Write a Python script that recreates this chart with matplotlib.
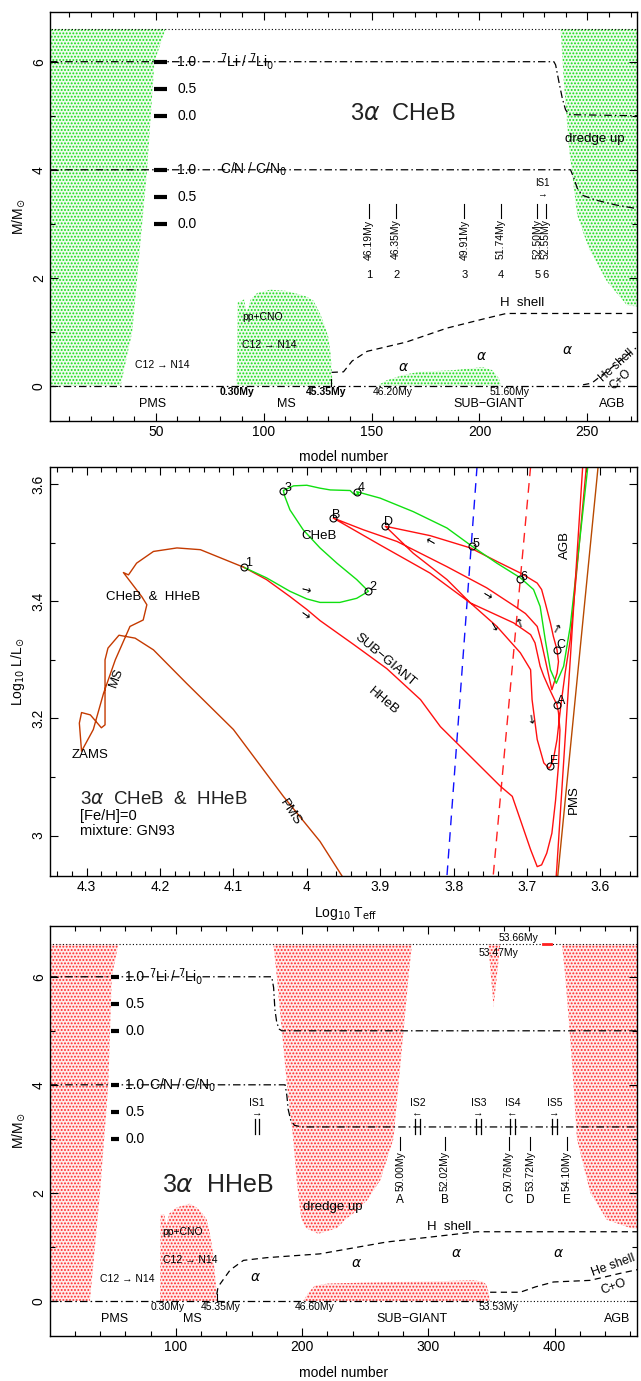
import matplotlib
matplotlib.use('Agg')
import matplotlib.pyplot as plt
from matplotlib.ticker import MultipleLocator, FixedLocator

plt.rcParams['font.family'] = ['Liberation Sans', 'DejaVu Sans']
plt.rcParams['mathtext.fontset'] = 'dejavusans'
plt.rcParams['hatch.linewidth'] = 0.9

# ================= DATA =================
# ---- top panel (3alpha CHeB), model number vs M/Msun ----
top_pms_y = [0, 1, 2, 4, 6, 6.6]
top_pms_x = [33.7, 39.1, 41.4, 46.0, 49.4, 54.5]
top_ms_x = [87.5, 88, 91, 92, 94, 97, 103, 110, 116, 120, 123, 126, 128, 130, 131, 131.5, 132]
top_ms_y = [0, 1.55, 1.6, 1.35, 1.6, 1.72, 1.78, 1.76, 1.7, 1.65, 1.58, 1.35, 1.15, 0.9, 0.6, 0.3, 0]
top_sg_x = [152.6, 156.8, 164.5, 172, 187.6, 195, 201.4, 206, 209, 210]
top_sg_y = [0, 0.1, 0.2, 0.26, 0.29, 0.32, 0.35, 0.29, 0.14, 0]
top_agb_y = [1.47, 1.49, 1.93, 2.54, 3.16, 4.40, 5.63, 6.6]
top_agb_x = [273, 268.4, 259.1, 250.7, 245.3, 241.5, 239.1, 237.6]
top_li_x = [1, 234.5, 235.3, 236.8, 238.4, 239.9, 241.5, 273]
top_li_y = [6, 6, 5.94, 5.63, 5.32, 5.11, 5.02, 5.0]
top_cn_x = [1, 242.2, 243.8, 245.3, 247.6, 253.8, 263, 273]
top_cn_y = [4, 4, 3.84, 3.66, 3.53, 3.44, 3.35, 3.28]
top_hsh_x = [131.5, 137, 141, 148, 166, 185, 203, 212.4, 273]
top_hsh_y = [0.25, 0.26, 0.46, 0.64, 0.81, 1.07, 1.25, 1.34, 1.34]
top_hesh_x = [248, 252, 260, 272.5]
top_hesh_y = [0.02, 0.05, 0.3, 0.7]
top_mark_x = [148.8, 161.4, 193, 209.9, 226.8, 230.7]
top_mark_age = ['46.19My', '46.35My', '49.91My', '51.74My', '52.50My', '52.55My']
top_mark_id = ['1', '2', '3', '4', '5', '6']
top_time_x = [87.8, 129, 160, 214]
top_time_lab = ['0.30My', '45.35My', '46.20My', '51.60My']
top_phase_x = [48.3, 110.6, 204.5, 261.4]
top_alpha_x = [165, 201, 240.7]
top_alpha_y = [0.35, 0.55, 0.66]

# ---- middle panel: HR diagram ----
shared_T = [3.952, 3.982, 4.032, 4.1, 4.164, 4.209, 4.234, 4.256, 4.271, 4.275, 4.275,
            4.28, 4.295, 4.307, 4.31, 4.307, 4.291, 4.277, 4.261, 4.241, 4.223, 4.218,
            4.225, 4.25, 4.243, 4.232, 4.209, 4.177, 4.145, 4.086]
shared_L = [2.931, 2.99, 3.067, 3.181, 3.26, 3.317, 3.337, 3.342, 3.32, 3.30, 3.189,
            3.184, 3.206, 3.21, 3.192, 3.144, 3.181, 3.243, 3.30, 3.357, 3.368, 3.394,
            3.408, 3.449, 3.445, 3.465, 3.485, 3.491, 3.488, 3.458]
green_T = [4.086, 4.055, 4.023, 4.0, 3.982, 3.955, 3.932, 3.916, 3.932, 3.959, 3.982,
           4.005, 4.023, 4.03, 4.032, 4.018, 4.0, 3.982, 3.968, 3.941, 3.936, 3.929,
           3.932, 3.9, 3.855, 3.809, 3.775, 3.741, 3.709, 3.691, 3.682, 3.675, 3.668,
           3.66, 3.65, 3.641, 3.630, 3.617]
green_L = [3.458, 3.44, 3.417, 3.404, 3.398, 3.398, 3.405, 3.417, 3.437, 3.465, 3.491,
           3.522, 3.556, 3.579, 3.589, 3.597, 3.598, 3.593, 3.59, 3.589, 3.583, 3.582,
           3.587, 3.576, 3.553, 3.525, 3.494, 3.465, 3.44, 3.42, 3.391, 3.334, 3.283,
           3.26, 3.289, 3.357, 3.482, 3.63]
red_T = [4.086, 4.055, 4.023, 4.0, 3.982, 3.936, 3.891, 3.845, 3.818, 3.736, 3.72,
         3.709, 3.695, 3.686, 3.68, 3.673, 3.666, 3.661, 3.657, 3.655, 3.657, 3.659,
         3.670, 3.677, 3.682, 3.689, 3.695, 3.718, 3.777, 3.832, 3.9, 3.964,
         3.923, 3.877, 3.809, 3.755, 3.716, 3.702, 3.686, 3.681, 3.675, 3.668, 3.666,
         3.659, 3.657, 3.659,
         3.664, 3.668, 3.675, 3.68, 3.686, 3.707, 3.741, 3.777, 3.832, 3.893,
         3.855, 3.809, 3.777, 3.741, 3.709, 3.695, 3.693, 3.686, 3.677, 3.670, 3.668,
         3.664, 3.659, 3.654, 3.648, 3.641, 3.630, 3.619]
red_L = [3.458, 3.437, 3.408, 3.386, 3.367, 3.326, 3.285, 3.232, 3.186, 3.084, 3.067,
         3.027, 2.976, 2.947, 2.95, 2.97, 3.004, 3.06, 3.12, 3.18, 3.21, 3.223,
         3.252, 3.272, 3.289, 3.329, 3.343, 3.363, 3.397, 3.448, 3.496, 3.542,
         3.522, 3.502, 3.459, 3.423, 3.391, 3.379, 3.357, 3.334, 3.30, 3.26, 3.249,
         3.277, 3.297, 3.317,
         3.34, 3.363, 3.397, 3.42, 3.431, 3.447, 3.468, 3.491, 3.512, 3.528,
         3.482, 3.437, 3.397, 3.357, 3.312, 3.283, 3.232, 3.164, 3.124, 3.115, 3.118,
         3.13, 3.164, 3.22, 3.277, 3.334, 3.48, 3.63]
hayashi_T = [3.658, 3.603]
hayashi_L = [2.931, 3.63]
hayashi2_T = [3.660, 3.624]
hayashi2_L = [2.931, 3.63]
blue_edge_T = [3.768, 3.809]
blue_edge_L = [3.63, 2.931]
red_edge_T = [3.695, 3.746]
red_edge_L = [3.63, 2.931]
green_pts_T = [4.086, 3.916, 4.032, 3.932, 3.775, 3.709]
green_pts_L = [3.458, 3.417, 3.589, 3.587, 3.494, 3.438]
green_pts_id = ['1', '2', '3', '4', '5', '6']
red_pts_T = [3.659, 3.964, 3.659, 3.893, 3.668]
red_pts_L = [3.223, 3.542, 3.317, 3.528, 3.118]
red_pts_id = ['A', 'B', 'C', 'D', 'E']

# ---- bottom panel (3alpha HHeB) ----
bot_pms_y = [0, 1, 2, 4, 6, 6.6]
bot_pms_x = [32, 36, 40, 46.6, 49.3, 54.5]
bot_ms_x = [87.6, 88, 91, 92.5, 95, 100, 105, 111, 117, 121, 124.6, 127, 129.5, 131, 132.2, 132.5]
bot_ms_y = [0, 1.6, 1.6, 1.4, 1.62, 1.72, 1.76, 1.8, 1.72, 1.62, 1.5, 1.25, 0.9, 0.5, 0.2, 0]
bot_sg_x = [201, 205, 210, 220, 250, 300, 335, 343, 346, 348, 348.5]
bot_sg_y = [0, 0.15, 0.28, 0.32, 0.34, 0.36, 0.38, 0.36, 0.3, 0.15, 0]
bot_du_y = [1.25, 1.35, 1.5, 1.62, 1.86, 2.23, 3.0, 4.0, 5.0, 6.0, 6.6]
bot_du_left = [212, 203, 199.8, 198.8, 197.5, 195.8, 193, 188, 184, 180, 177.4]
bot_du_right = [214, 228, 234, 240.7, 251.4, 261.9, 272.4, 276.4, 280.4, 284.4, 287]
bot_spike_x = [347.5, 351.7, 357]
bot_spike_y = [6.6, 5.44, 6.6]
bot_agb_y = [1.33, 1.35, 1.5, 2.0, 2.5, 3.0, 4.0, 5.0, 6.0, 6.6]
bot_agb_x = [466, 460, 441.5, 428.3, 423, 417.7, 415, 411.9, 408.5, 405.9]
bot_li_x = [0.4, 176, 177.5, 178.5, 180, 182, 184, 466]
bot_li_y = [6, 6, 5.8, 5.4, 5.15, 5.03, 5.0, 5.0]
bot_cn_x = [0.4, 186.6, 188, 189, 191, 194, 200, 466]
bot_cn_y = [4, 4, 3.8, 3.55, 3.35, 3.25, 3.22, 3.22]
bot_hsh_x = [132.5, 133.5, 143, 153.6, 172, 214, 267, 320, 338.5, 466]
bot_hsh_y = [0.12, 0.26, 0.57, 0.75, 0.8, 0.87, 1.09, 1.23, 1.28, 1.28]
bot_hesh_x = [349, 372.8, 385, 399.2, 428.3, 452, 466]
bot_hesh_y = [0.16, 0.16, 0.26, 0.35, 0.38, 0.51, 0.58]
bot_mark_x = [277.7, 312.9, 363.6, 380.8, 409.8]
bot_mark_age = ['50.00My', '52.02My', '50.76My', '53.72My', '54.10My']
bot_mark_id = ['A', 'B', 'C', 'D', 'E']
bot_is_x = [164.2, 291.5, 339.8, 366.7, 400.0]
bot_is_name = ['IS1', 'IS2', 'IS3', 'IS4', 'IS5']
bot_is_arrow = ['\u2192', '\u2190', '\u2192', '\u2190', '\u2192']
bot_time_x = [93.4, 135.6, 210.4, 355.9]
bot_time_lab = ['0.30My', '45.35My', '46.60My', '53.53My']
bot_phase_x = [51.9, 113.5, 287, 449.4]
bot_alpha_x = [162.8, 242.9, 322.7, 403.2]
bot_alpha_y = [0.44, 0.70, 0.89, 0.89]

phase_names = ['PMS', 'MS', 'SUB\u2212GIANT', 'AGB']
scale_vals = ['1.0', '0.5', '0.0']

# ================= FIGURE =================
W, H = 641, 1381
fig = plt.figure(figsize=(W / 100, H / 100), dpi=100)
ax1 = fig.add_axes([50 / W, 1 - 421 / H, 587 / W, 409 / H])
ax2 = fig.add_axes([50 / W, 1 - 876 / H, 587 / W, 409.5 / H])
ax3 = fig.add_axes([50 / W, 1 - 1336 / H, 587 / W, 410 / H])

GREEN = '#18dc18'
GREEN_BG = '#edfbed'
REDH = '#ff2a2a'
RED_BG = '#ffeaea'
DASHDOT = (0, (6, 2.5, 1.2, 2.5))
DASHED = (0, (5, 3.5))


def style(ax, xmaj, xmin, ymaj, ylabs, ymin):
    ax.xaxis.set_major_locator(FixedLocator(xmaj))
    ax.xaxis.set_minor_locator(FixedLocator(xmin))
    ax.set_yticks(ymaj)
    ax.set_yticklabels(ylabs, rotation=90, va='center')
    ax.yaxis.set_minor_locator(FixedLocator(ymin))
    ax.tick_params(which='both', direction='in', top=True, right=True, labelsize=10, pad=3)
    ax.tick_params(which='major', length=6, width=0.8)
    ax.tick_params(which='minor', length=3.5, width=0.8)
    for s in ax.spines.values():
        s.set_linewidth(1.0)


def conv_fill_x(ax, y, xl, xr, color, bg):
    ax.fill_betweenx(y, xl, xr, facecolor=bg, edgecolor=color, hatch='.....', linewidth=0)


def conv_fill_y(ax, x, yl, yu, color, bg):
    ax.fill_between(x, yl, yu, facecolor=bg, edgecolor=color, hatch='.....', linewidth=0)


def kipp_common(ax, li_x, li_y, cn_x, cn_y, bar_x0, bar_x1, num_x, txt_x, xr):
    ax.plot([0, xr], [6.6, 6.6], color='k', lw=0.8, ls=(0, (1, 2)))
    ax.plot(li_x, li_y, color='k', lw=0.9, ls=DASHDOT)
    ax.plot(cn_x, cn_y, color='k', lw=0.9, ls=DASHDOT)
    for base in (6.0, 4.0):
        for k, v in enumerate(scale_vals):
            yy = base - 0.5 * k
            ax.plot([bar_x0, bar_x1], [yy, yy], color='k', lw=3, solid_capstyle='butt', zorder=4)
            ax.text(num_x, yy, v, fontsize=10, ha='left', va='center', zorder=4)
    ax.text(txt_x, 6.0, r'$^7$Li / $^7$Li$_0$', fontsize=10, ha='left', va='center')
    ax.text(txt_x, 4.0, r'C/N / C/N$_0$', fontsize=10, ha='left', va='center')


# ---------------- TOP PANEL ----------------
ax = ax1
conv_fill_x(ax, top_pms_y, [0] * len(top_pms_y), top_pms_x, GREEN, GREEN_BG)
conv_fill_y(ax, top_ms_x, 0, top_ms_y, GREEN, GREEN_BG)
conv_fill_y(ax, top_sg_x, 0, top_sg_y, GREEN, GREEN_BG)
conv_fill_x(ax, top_agb_y, top_agb_x, [280] * len(top_agb_y), GREEN, GREEN_BG)
ax.plot([0, 280], [0, 0], color='k', lw=0.9, ls=DASHDOT)
kipp_common(ax, top_li_x, top_li_y, top_cn_x, top_cn_y, 49.4, 55.2, 60, 80, 280)
ax.plot(top_hsh_x, top_hsh_y, color='k', lw=0.9, ls=DASHED)
ax.plot([131.4, 131.4], [0.0, 0.13], color='k', lw=0.8)
ax.plot(top_hesh_x, top_hesh_y, color='k', lw=0.9, ls=DASHED)
for x, age, idn in zip(top_mark_x, top_mark_age, top_mark_id):
    ax.plot([x, x], [3.1, 3.36], color='k', lw=0.8)
    ax.text(x, 3.08, age, rotation=90, fontsize=7.5, ha='center', va='top')
    ax.text(x, 2.05, idn, fontsize=8, ha='center', va='center')
ax.text(229, 3.75, 'IS1', fontsize=7, ha='center', va='center')
ax.text(229, 3.55, '\u2192', fontsize=7, ha='center', va='center')
for x, lab in zip(top_time_x, top_time_lab):
    ax.text(x, -0.12, lab, fontsize=7.5, ha='center', va='center',
            fontweight='bold' if lab in ('0.30My', '45.35My') else 'normal')
for x, lab in zip(top_phase_x, phase_names):
    ax.text(x, -0.33, lab, fontsize=9, ha='center', va='center')
for x, y in zip(top_alpha_x, top_alpha_y):
    ax.text(x, y, r'$\alpha$', fontsize=10, ha='center', va='center')
ax.text(164.5, 5.04, r'3$\alpha$  CHeB', fontsize=17, ha='center', va='center', color='#222222')
ax.text(253.5, 4.57, 'dredge up', fontsize=9.5, ha='center', va='center')
ax.text(220, 1.53, 'H  shell', fontsize=9.5, ha='center', va='center')
ax.text(263.5, 0.38, 'He shell', fontsize=8.5, ha='center', va='center', rotation=42)
ax.text(265.5, 0.12, 'C+O', fontsize=8.5, ha='center', va='center', rotation=42)
ax.text(90, 1.28, 'pp+CNO', fontsize=7.5, ha='left', va='center')
ax.text(90, 0.75, 'C12 \u2192 N14', fontsize=7.5, ha='left', va='center')
ax.text(40.3, 0.38, 'C12 \u2192 N14', fontsize=7.5, ha='left', va='center')
ax.set_xlim(1, 273)
ax.set_ylim(-0.65, 6.92)
style(ax, [50, 100, 150, 200, 250], list(range(10, 280, 10)), [0, 2, 4, 6],
      ['0', '2', '4', '6'], [1, 3, 5])
ax.set_xlabel('model number', fontsize=10)
ax.xaxis.set_label_coords(0.5, -0.072)
ax.set_ylabel(r'M/M$_{\odot}$', fontsize=10)
ax.yaxis.set_label_coords(-0.04, 0.5)

# ---------------- MIDDLE PANEL ----------------
ax = ax2
ax.plot(blue_edge_T, blue_edge_L, color='#1010ff', lw=1.0, ls=(0, (7, 5)))
ax.plot(red_edge_T, red_edge_L, color='#ff2020', lw=1.0, ls=(0, (7, 5)))
ax.plot(red_T, red_L, color='#ff1010', lw=1.0)
ax.plot(green_T, green_L, color='#10e010', lw=1.0)
ax.plot(hayashi2_T, hayashi2_L, color='#ff1010', lw=1.0)
ax.plot(hayashi_T, hayashi_L, color='#b84a00', lw=1.0)
ax.plot(shared_T, shared_L, color='#c43a00', lw=1.0)
ax.plot(green_pts_T, green_pts_L, 'o', mfc='none', mec='k', ms=5, mew=0.8)
ax.plot(red_pts_T, red_pts_L, 'o', mfc='none', mec='k', ms=5, mew=0.8)
gl_dx = [0.006, 0.006, 0.007, 0.006, 0.006, 0.005]
gl_dy = [0.008, 0.007, 0.005, 0.006, 0.003, 0.004]
for t, l, s, dx, dy in zip(green_pts_T, green_pts_L, green_pts_id, gl_dx, gl_dy):
    ax.text(t - dx, l + dy, s, fontsize=9, ha='center', va='center')
rl_dx = [0.005, 0.004, 0.005, 0.005, 0.005]
rl_dy = [0.006, 0.006, 0.009, 0.007, 0.009]
for t, l, s, dx, dy in zip(red_pts_T, red_pts_L, red_pts_id, rl_dx, rl_dy):
    ax.text(t - dx, l + dy, s, fontsize=9, ha='center', va='center')
arrow_T = [4.002, 4.002, 3.832, 3.755, 3.746, 3.709, 3.661, 3.693]
arrow_L = [3.42, 3.377, 3.502, 3.411, 3.357, 3.363, 3.351, 3.198]
arrow_ch = ['\u2192', '\u2192', '\u2190', '\u2192', '\u2192', '\u2191', '\u2191', '\u2193']
arrow_rot = [-15, -35, -30, -30, -60, 20, -30, 10]
for t, l, c, r in zip(arrow_T, arrow_L, arrow_ch, arrow_rot):
    ax.text(t, l, c, fontsize=8.5, ha='center', va='center', rotation=r,
            family=['DejaVu Sans'])
ax.text(3.983, 3.511, 'CHeB', fontsize=9.5, ha='center', va='center')
ax.text(4.209, 3.408, 'CHeB  &  HHeB', fontsize=9.5, ha='center', va='center')
ax.text(4.259, 3.269, 'MS', fontsize=9.5, ha='center', va='center', rotation=70)
ax.text(4.295, 3.138, 'ZAMS', fontsize=9.5, ha='center', va='center')
ax.text(4.023, 3.039, 'PMS', fontsize=9.5, ha='center', va='center', rotation=-57)
ax.text(3.893, 3.30, 'SUB\u2212GIANT', fontsize=9.5, ha='center', va='center', rotation=-40)
ax.text(3.895, 3.229, 'HHeB', fontsize=9.5, ha='center', va='center', rotation=-40)
ax.text(3.648, 3.496, 'AGB', fontsize=9.5, ha='center', va='center', rotation=90)
ax.text(3.636, 3.061, 'PMS', fontsize=9.5, ha='center', va='center', rotation=90)
ax.text(4.309, 3.061, r'3$\alpha$  CHeB  &  HHeB', fontsize=13.5, ha='left', va='center', color='#222222')
ax.text(4.309, 3.033, '[Fe/H]=0', fontsize=10.5, ha='left', va='center')
ax.text(4.309, 3.007, 'mixture: GN93', fontsize=10.5, ha='left', va='center')
ax.set_xlim(4.35, 3.55)
ax.set_ylim(2.931, 3.63)
xt = [4.3, 4.2, 4.1, 4.0, 3.9, 3.8, 3.7, 3.6]
style(ax, xt, [3.56 + 0.02 * i for i in range(40)], [3.0, 3.2, 3.4, 3.6],
      ['3', '3.2', '3.4', '3.6'], [2.9 + 0.1 * i for i in range(8)])
ax.set_xticklabels(['4.3', '4.2', '4.1', '4', '3.9', '3.8', '3.7', '3.6'])
ax.set_xlabel(r'Log$_{10}$ T$_{\rm eff}$', fontsize=10)
ax.xaxis.set_label_coords(0.504, -0.072)
ax.set_ylabel(r'Log$_{10}$ L/L$_{\odot}$', fontsize=10)
ax.yaxis.set_label_coords(-0.04, 0.5)

# ---------------- BOTTOM PANEL ----------------
ax = ax3
conv_fill_x(ax, bot_pms_y, [0] * len(bot_pms_y), bot_pms_x, REDH, RED_BG)
conv_fill_y(ax, bot_ms_x, 0, bot_ms_y, REDH, RED_BG)
conv_fill_y(ax, bot_sg_x, 0, bot_sg_y, REDH, RED_BG)
conv_fill_x(ax, bot_du_y, bot_du_left, bot_du_right, REDH, RED_BG)
conv_fill_y(ax, bot_spike_x, bot_spike_y, 6.6, REDH, RED_BG)
conv_fill_x(ax, bot_agb_y, bot_agb_x, [470] * len(bot_agb_y), REDH, RED_BG)
ax.plot([0, 348.5], [0, 0], color='k', lw=0.9, ls=DASHDOT)
ax.plot([348.5, 470], [0, 0], color='k', lw=0.8, ls=(0, (1, 2)))
kipp_common(ax, bot_li_x, bot_li_y, bot_cn_x, bot_cn_y, 48.8, 55.0, 59.8, 78.8, 470)
ax.plot([391, 397], [6.6, 6.6], color='#ff2020', lw=2)
ax.plot(bot_hsh_x, bot_hsh_y, color='k', lw=0.9, ls=DASHED)
ax.plot([132.5, 132.5], [0.0, 0.13], color='k', lw=0.8)
ax.plot(bot_hesh_x, bot_hesh_y, color='k', lw=0.9, ls=DASHED)
for x, age, idn in zip(bot_mark_x, bot_mark_age, bot_mark_id):
    ax.plot([x, x], [2.79, 3.04], color='k', lw=0.8)
    ax.text(x, 2.77, age, rotation=90, fontsize=7.5, ha='center', va='top')
    ax.text(x, 1.86, idn, fontsize=8.5, ha='center', va='center')
for x, nm, ar in zip(bot_is_x, bot_is_name, bot_is_arrow):
    ax.text(x, 3.67, nm, fontsize=7.5, ha='center', va='center')
    ax.text(x, 3.47, ar, fontsize=7.5, ha='center', va='center')
    for dx in (-1.8, 1.8):
        ax.plot([x + dx, x + dx], [3.09, 3.36], color='k', lw=0.9)
for x, lab in zip(bot_time_x, bot_time_lab):
    ax.text(x, -0.12, lab, fontsize=7.5, ha='center', va='center')
ax.text(371.5, 6.71, '53.66My', fontsize=7.5, ha='center', va='center')
ax.text(356, 6.44, '53.47My', fontsize=7.5, ha='center', va='center')
for x, lab in zip(bot_phase_x, phase_names):
    ax.text(x, -0.33, lab, fontsize=9, ha='center', va='center')
for x, y in zip(bot_alpha_x, bot_alpha_y):
    ax.text(x, y, r'$\alpha$', fontsize=10, ha='center', va='center')
ax.text(133, 2.14, r'3$\alpha$  HHeB', fontsize=18, ha='center', va='center', color='#222222')
ax.text(224, 1.73, 'dredge up', fontsize=9.5, ha='center', va='center')
ax.text(316.6, 1.37, 'H  shell', fontsize=9.5, ha='center', va='center')
ax.text(446.8, 0.66, 'He shell', fontsize=9, ha='center', va='center', rotation=20)
ax.text(446.8, 0.26, 'C+O', fontsize=9, ha='center', va='center', rotation=20)
ax.text(89.7, 1.28, 'pp+CNO', fontsize=7.5, ha='left', va='center')
ax.text(89.7, 0.75, 'C12 \u2192 N14', fontsize=7.5, ha='left', va='center')
ax.text(40, 0.40, 'C12 \u2192 N14', fontsize=7.5, ha='left', va='center')
ax.set_xlim(0.4, 465.3)
ax.set_ylim(-0.65, 6.94)
style(ax, [100, 200, 300, 400], list(range(20, 470, 20)), [0, 2, 4, 6],
      ['0', '2', '4', '6'], [1, 3, 5])
ax.set_xlabel('model number', fontsize=10)
ax.xaxis.set_label_coords(0.5, -0.072)
ax.set_ylabel(r'M/M$_{\odot}$', fontsize=10)
ax.yaxis.set_label_coords(-0.04, 0.5)

fig.savefig('out.png', dpi=100)
